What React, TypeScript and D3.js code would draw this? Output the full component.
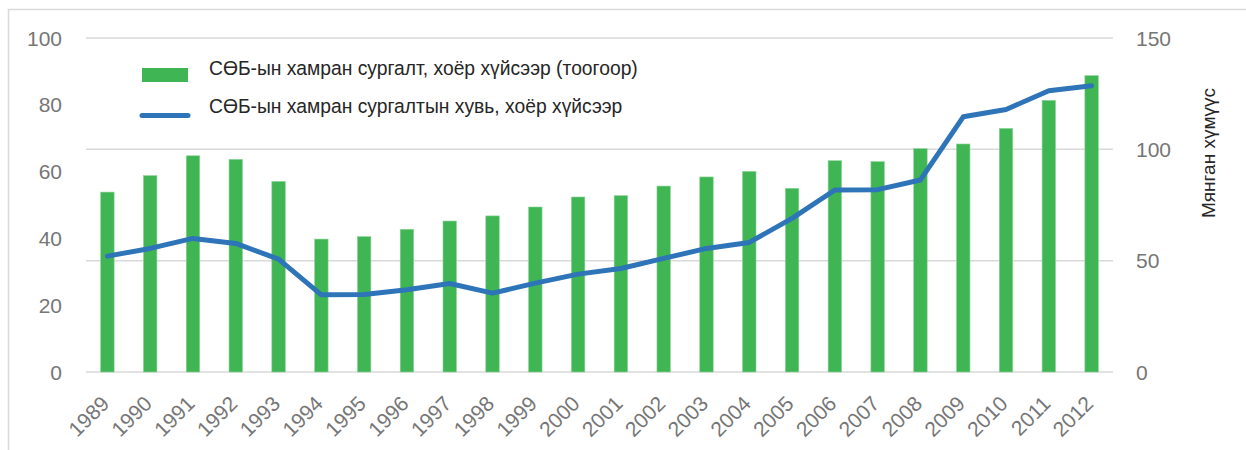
import React, { useEffect, useRef } from 'react';
import * as d3 from 'd3';

// Years on the x axis
const years: string[] = [
    '1989', '1990', '1991', '1992', '1993', '1994', '1995', '1996', '1997', '1998', '1999', '2000',
    '2001', '2002', '2003', '2004', '2005', '2006', '2007', '2008', '2009', '2010', '2011', '2012',
];

// Enrolment, thousand people (right axis)
const enrolment: number[] = [
    80.8, 88.2, 97.1, 95.5, 85.6, 59.7, 60.8, 64.1, 67.8, 70.1, 74.1, 78.6,
    79.2, 83.5, 87.6, 90.1, 82.5, 94.9, 94.5, 100.3, 102.4, 109.4, 122.0, 133.1,
];

// Enrolment rate, % (left axis)
const rate: number[] = [
    34.7, 37.0, 40.0, 38.5, 33.8, 23.1, 23.2, 24.6, 26.5, 23.6, 26.6, 29.3,
    31.0, 34.0, 37.0, 38.8, 46.0, 54.5, 54.6, 57.5, 76.4, 78.6, 84.2, 85.7,
];

const leftTicks: number[] = [0, 20, 40, 60, 80, 100];
const rightTicks: number[] = [0, 50, 100, 150];

const barLabel = 'СӨБ-ын хамран сургалт, хоёр хүйсээр (тоогоор)';
const lineLabel = 'СӨБ-ын хамран сургалтын хувь, хоёр хүйсээр';
const rightTitle = 'Мянган хүмүүс';

const App: React.FC = () => {
    const ref = useRef<SVGSVGElement>(null);

    useEffect(() => {
        if (!ref.current) return;
        const svg = d3.select(ref.current);
        svg.selectAll('*').remove();

        const left = 86, right = 1113, top = 38, bottom = 372;
        const font = '"Liberation Sans", Arial, sans-serif';
        const tickColor = '#767676';

        // Chart border
        svg.append('rect')
            .attr('x', 8.5).attr('y', 9.5)
            .attr('width', 1260).attr('height', 460)
            .attr('fill', 'white')
            .attr('stroke', '#d9d9d9')
            .attr('stroke-width', 1.5);

        const x = d3.scaleBand<string>()
            .domain(years)
            .range([left, right])
            .paddingInner(0.685)
            .paddingOuter(0.3425);

        const yLeft = d3.scaleLinear().domain([0, 100]).range([bottom, top]);
        const yRight = d3.scaleLinear().domain([0, 150]).range([bottom, top]);

        // Gridlines follow the right axis
        svg.append('g')
            .selectAll('line')
            .data(rightTicks)
            .enter()
            .append('line')
            .attr('x1', left).attr('x2', right)
            .attr('y1', d => yRight(d)).attr('y2', d => yRight(d))
            .attr('stroke', '#d9d9d9')
            .attr('stroke-width', 1.5);

        // Left tick labels
        svg.append('g')
            .selectAll('text')
            .data(leftTicks)
            .enter()
            .append('text')
            .attr('x', 62)
            .attr('y', d => yLeft(d))
            .attr('dy', '0.36em')
            .attr('text-anchor', 'end')
            .style('font-family', font)
            .style('font-size', '21px')
            .style('fill', tickColor)
            .text(d => d);

        // Right tick labels
        svg.append('g')
            .selectAll('text')
            .data(rightTicks)
            .enter()
            .append('text')
            .attr('x', 1136)
            .attr('y', d => yRight(d))
            .attr('dy', '0.36em')
            .attr('text-anchor', 'start')
            .style('font-family', font)
            .style('font-size', '21px')
            .style('fill', tickColor)
            .text(d => d);

        // Bars
        svg.append('g')
            .selectAll('rect')
            .data(enrolment)
            .enter()
            .append('rect')
            .attr('x', (d, i) => x(years[i]) as number)
            .attr('y', d => yRight(d))
            .attr('width', x.bandwidth())
            .attr('height', d => bottom - yRight(d))
            .attr('fill', '#40b554')
            .attr('stroke', '#8fd49a')
            .attr('stroke-width', 0.6);

        // Line
        const line = d3.line<number>()
            .x((d, i) => (x(years[i]) as number) + x.bandwidth() / 2)
            .y(d => yLeft(d));

        svg.append('path')
            .datum(rate)
            .attr('d', line)
            .attr('fill', 'none')
            .attr('stroke', '#2e74b8')
            .attr('stroke-width', 5)
            .attr('stroke-linejoin', 'round')
            .attr('stroke-linecap', 'round');

        // X labels
        svg.append('g')
            .selectAll('text')
            .data(years)
            .enter()
            .append('text')
            .attr('transform', d => `translate(${(x(d) as number) + x.bandwidth() / 2 + 3},${405}) rotate(-45)`)
            .attr('text-anchor', 'end')
            .style('font-family', font)
            .style('font-size', '21px')
            .style('fill', tickColor)
            .text(d => d);

        // Right axis title
        svg.append('text')
            .attr('transform', `translate(1215,153) rotate(-90)`)
            .attr('text-anchor', 'middle')
            .style('font-family', font)
            .style('font-size', '19px')
            .style('fill', '#262626')
            .text(rightTitle);

        // Legend
        const legend = svg.append('g');
        legend.append('rect')
            .attr('x', 142).attr('y', 68)
            .attr('width', 46).attr('height', 14)
            .attr('fill', '#40b554');
        legend.append('text')
            .attr('x', 209).attr('y', 75)
            .style('font-family', font)
            .style('font-size', '19.3px')
            .style('fill', '#262626')
            .text(barLabel);

        legend.append('line')
            .attr('x1', 142).attr('x2', 188)
            .attr('y1', 115.5).attr('y2', 115.5)
            .attr('stroke', '#2e74b8')
            .attr('stroke-width', 5)
            .attr('stroke-linecap', 'round');
        legend.append('text')
            .attr('x', 209).attr('y', 113)
            .style('font-family', font)
            .style('font-size', '19.3px')
            .style('fill', '#262626')
            .text(lineLabel);
    }, []);

    return (
        <svg
            ref={ref}
            width={1246}
            height={450}
            style={{ position: 'absolute', left: 0, top: 0, background: 'white' }}
        />
    );
};

export default App;
